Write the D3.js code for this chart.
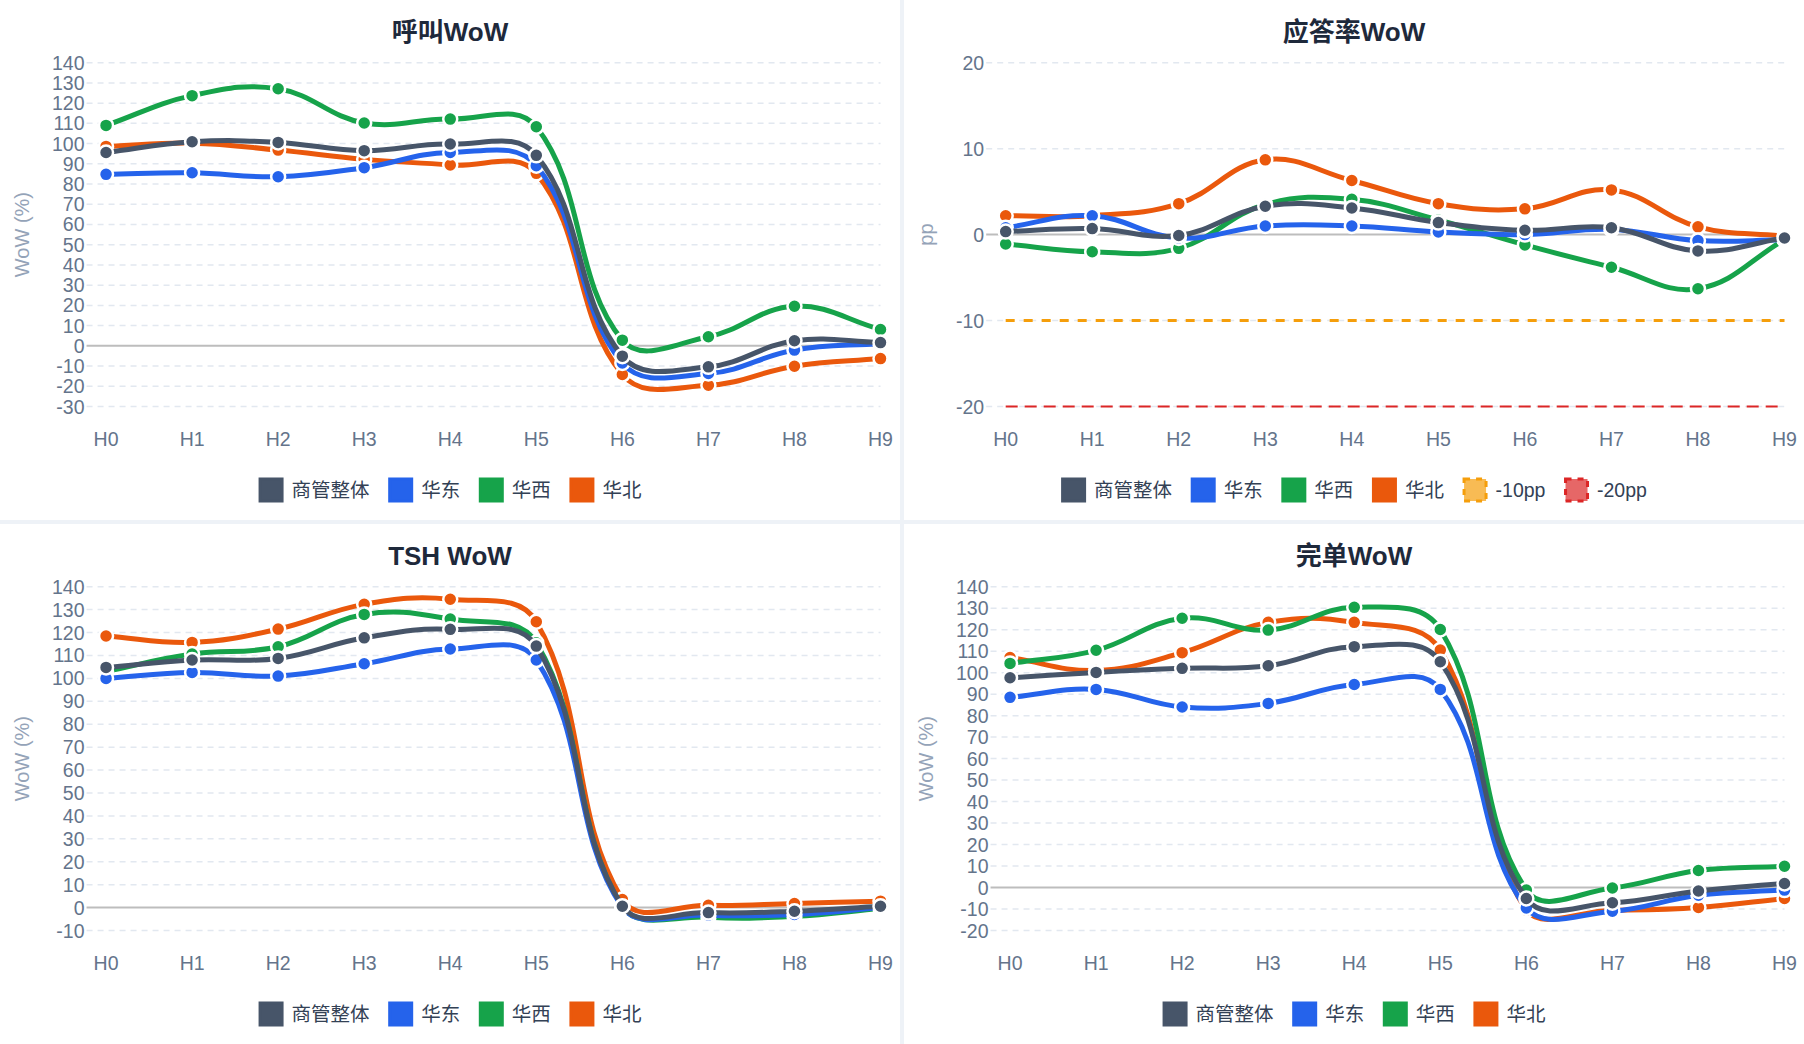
<!DOCTYPE html>
<html>
<head>
<meta charset="utf-8">
<script src="https://cdn.jsdelivr.net/npm/d3@7"></script>
<style>
  body { margin: 0; background: #eef2f7; }
  svg { display: block; }
  text { font-family: "Liberation Sans", "Noto Sans CJK SC", sans-serif; }
</style>
</head>
<body>
<script>
// categories + series names
const hours = ['H0', 'H1', 'H2', 'H3', 'H4', 'H5', 'H6', 'H7', 'H8', 'H9'];
const seriesNames = ['商管整体', '华东', '华西', '华北'];
const seriesColors = ['#475569', '#2563eb', '#16a34a', '#ea580c'];

// 呼叫WoW (%)
const callOverall = [95.6, 100.9, 100.6, 96.5, 99.8, 94.2, -5.1, -10.4, 2.5, 1.6];
const callEast    = [84.8, 85.6, 83.6, 88.1, 95.6, 89.1, -8.5, -13.7, -2.1, 1.2];
const callWest    = [109.0, 123.7, 127.1, 110.2, 112.1, 108.3, 2.8, 4.5, 19.6, 8.1];
const callNorth   = [98.6, 100.2, 96.8, 92.2, 89.4, 85.3, -14.2, -19.5, -10.1, -6.3];
const callTicks   = [140, 130, 120, 110, 100, 90, 80, 70, 60, 50, 40, 30, 20, 10, 0, -10, -20, -30];

// 应答率WoW (pp)
const ansOverall = [0.35, 0.7, -0.1, 3.3, 3.1, 1.4, 0.5, 0.8, -1.9, -0.4];
const ansEast    = [0.8, 2.2, -0.4, 1.0, 1.0, 0.3, 0.0, 0.6, -0.7, -0.6];
const ansWest    = [-1.1, -2.0, -1.6, 3.5, 4.1, 1.7, -1.2, -3.8, -6.3, -0.6];
const ansNorth   = [2.2, 2.2, 3.6, 8.7, 6.3, 3.6, 3.0, 5.2, 0.9, -0.2];
const ansMinus10 = [-10, -10, -10, -10, -10, -10, -10, -10, -10, -10];
const ansMinus20 = [-20, -20, -20, -20, -20, -20, -20, -20, -20, -20];
const ansTicks   = [20, 10, 0, -10, -20];

// TSH WoW (%)
const tshOverall = [104.8, 108.0, 108.7, 117.7, 121.4, 114.1, 0.6, -2.2, -1.6, 0.6];
const tshEast    = [100.0, 102.6, 101.0, 106.4, 112.8, 108.0, 0.0, -3.3, -3.0, 0.0];
const tshWest    = [103.0, 110.6, 113.8, 127.9, 125.9, 115.5, 0.3, -4.2, -3.8, -0.4];
const tshNorth   = [118.5, 115.7, 121.5, 132.3, 134.5, 124.7, 3.5, 1.0, 1.8, 2.8];
const tshTicks   = [140, 130, 120, 110, 100, 90, 80, 70, 60, 50, 40, 30, 20, 10, 0, -10];

// 完单WoW (%)
const doneOverall = [97.6, 100.1, 102.0, 103.2, 112.1, 105.1, -5.1, -7.1, -1.6, 1.9];
const doneEast    = [88.5, 92.2, 84.0, 85.7, 94.5, 92.2, -9.5, -11.0, -3.6, -1.2];
const doneWest    = [104.3, 110.4, 125.3, 119.8, 130.4, 120.1, -1.2, -0.2, 7.9, 9.9];
const doneNorth   = [107.0, 101.0, 109.3, 123.4, 123.4, 110.5, -10.6, -10.6, -9.3, -5.1];
const doneTicks   = [140, 130, 120, 110, 100, 90, 80, 70, 60, 50, 40, 30, 20, 10, 0, -10, -20];

const width = 1804, height = 1044;
const panelW = 900, panelH = 520, gap = 4;

function mainSeries(vals) {
    return vals.map((v, i) => ({ name: seriesNames[i], color: seriesColors[i], values: v, points: true, width: 5 }));
}

const panels = [
    { title: '呼叫WoW', yTitle: 'WoW (%)', ticks: callTicks, col: 0, row: 0,
      series: mainSeries([callOverall, callEast, callWest, callNorth]) },
    { title: '应答率WoW', yTitle: 'pp', ticks: ansTicks, col: 1, row: 0,
      series: mainSeries([ansOverall, ansEast, ansWest, ansNorth]).concat([
        { name: '-10pp', color: '#f59e0b', fill: 'rgba(245,158,11,0.7)', values: ansMinus10, points: false, width: 3, dash: '9,9' },
        { name: '-20pp', color: '#dc2626', fill: 'rgba(220,38,38,0.7)', values: ansMinus20, points: false, width: 2, dash: '12,7' }
      ]) },
    { title: 'TSH WoW', yTitle: 'WoW (%)', ticks: tshTicks, col: 0, row: 1,
      series: mainSeries([tshOverall, tshEast, tshWest, tshNorth]) },
    { title: '完单WoW', yTitle: 'WoW (%)', ticks: doneTicks, col: 1, row: 1,
      series: mainSeries([doneOverall, doneEast, doneWest, doneNorth]) }
];

// chart.js style spline (tension 0.4), control points capped to the plot area
function splineCurve(area) {
    return function(context) {
        let pts = [];
        return {
            areaStart() {}, areaEnd() {},
            lineStart() { pts = []; },
            point(x, y) { pts.push({ x: +x, y: +y }); },
            lineEnd() {
                const n = pts.length, t = 0.4;
                const cap = (v, lo, hi) => Math.max(lo, Math.min(hi, v));
                const cps = pts.map((cur, i) => {
                    const prev = pts[Math.max(i - 1, 0)], next = pts[Math.min(i + 1, n - 1)];
                    const d01 = Math.hypot(cur.x - prev.x, cur.y - prev.y);
                    const d12 = Math.hypot(next.x - cur.x, next.y - cur.y);
                    let s01 = d01 / (d01 + d12), s12 = d12 / (d01 + d12);
                    if (isNaN(s01)) s01 = 0;
                    if (isNaN(s12)) s12 = 0;
                    const fa = t * s01, fb = t * s12;
                    return {
                        px: cap(cur.x - fa * (next.x - prev.x), area.left, area.right),
                        py: cap(cur.y - fa * (next.y - prev.y), area.top, area.bottom),
                        nx: cap(cur.x + fb * (next.x - prev.x), area.left, area.right),
                        ny: cap(cur.y + fb * (next.y - prev.y), area.top, area.bottom)
                    };
                });
                context.moveTo(pts[0].x, pts[0].y);
                for (let i = 1; i < n; i++) {
                    context.bezierCurveTo(cps[i - 1].nx, cps[i - 1].ny, cps[i].px, cps[i].py, pts[i].x, pts[i].y);
                }
            }
        };
    };
}

const svg = d3.select('body')
    .append('svg')
    .attr('width', width)
    .attr('height', height);

panels.forEach(p => drawPanel(p));

function drawPanel(p) {
    const g = svg.append('g')
        .attr('transform', `translate(${p.col * (panelW + gap)}, ${p.row * (panelH + gap)})`);

    g.append('rect')
        .attr('width', panelW)
        .attr('height', panelH)
        .attr('fill', '#ffffff');

    g.append('text')
        .attr('x', panelW / 2)
        .attr('y', 32)
        .attr('text-anchor', 'middle')
        .attr('dominant-baseline', 'central')
        .attr('font-size', 26)
        .attr('font-weight', 700)
        .attr('fill', '#1e293b')
        .text(p.title);

    const top = 62.7, bottom = 406.5, right = 880.5;
    const yScale = d3.scaleLinear()
        .domain([d3.min(p.ticks), d3.max(p.ticks)])
        .range([bottom, top]);

    // y tick labels, measure widest to place the grid
    const labelLeft = 52;
    const labels = g.append('g').selectAll('text')
        .data(p.ticks)
        .enter()
        .append('text')
        .attr('y', d => yScale(d))
        .attr('dominant-baseline', 'central')
        .attr('text-anchor', 'end')
        .attr('font-size', 19.5)
        .attr('fill', '#64748b')
        .text(d => d);
    let maxW = 0;
    labels.each(function() { maxW = Math.max(maxW, this.getComputedTextLength()); });
    const labelRight = labelLeft + maxW;
    labels.attr('x', labelRight);
    const gridStart = labelRight + 2;

    const xScale = d3.scalePoint()
        .domain(hours)
        .range([gridStart + 19.5, right]);

    g.append('text')
        .attr('transform', `translate(22, ${(top + bottom) / 2}) rotate(-90)`)
        .attr('text-anchor', 'middle')
        .attr('dominant-baseline', 'central')
        .attr('font-size', 20)
        .attr('fill', '#94a3b8')
        .text(p.yTitle);

    // grid
    g.insert('g', 'g').selectAll('line')
        .data(p.ticks)
        .enter()
        .append('line')
        .attr('x1', gridStart)
        .attr('x2', right)
        .attr('y1', d => yScale(d))
        .attr('y2', d => yScale(d))
        .attr('stroke', d => d === 0 ? '#bdbdbd' : '#e2e8f0')
        .attr('stroke-width', d => d === 0 ? 2 : 1.5)
        .attr('stroke-dasharray', d => d === 0 ? null : '6,5');

    // x labels
    g.append('g').selectAll('text')
        .data(hours)
        .enter()
        .append('text')
        .attr('x', d => xScale(d))
        .attr('y', 439)
        .attr('text-anchor', 'middle')
        .attr('dominant-baseline', 'central')
        .attr('font-size', 19.5)
        .attr('fill', '#64748b')
        .text(d => d);

    const area = { left: xScale(hours[0]), right: right, top: top, bottom: bottom };
    const line = d3.line()
        .x((d, i) => xScale(hours[i]))
        .y(d => yScale(d))
        .curve(splineCurve(area));
    const straight = d3.line()
        .x((d, i) => xScale(hours[i]))
        .y(d => yScale(d));

    // first dataset ends up on top
    const plot = g.append('g');
    p.series.slice().reverse().forEach(s => {
        const sg = plot.append('g');
        sg.append('path')
            .attr('d', s.points ? line(s.values) : straight(s.values))
            .attr('fill', 'none')
            .attr('stroke', s.color)
            .attr('stroke-width', s.width)
            .attr('stroke-dasharray', s.dash || null)
            .attr('stroke-linejoin', 'round');
        if (s.points) {
            sg.selectAll('circle')
                .data(s.values)
                .enter()
                .append('circle')
                .attr('cx', (d, i) => xScale(hours[i]))
                .attr('cy', d => yScale(d))
                .attr('r', 7)
                .attr('fill', s.color)
                .attr('stroke', '#ffffff')
                .attr('stroke-width', 2.5);
        }
    });

    // legend, centred on the panel
    const lg = g.append('g');
    const items = lg.selectAll('g')
        .data(p.series)
        .enter()
        .append('g');
    items.append('rect')
        .attr('x', 1.5)
        .attr('y', 490 - 11)
        .attr('width', 22)
        .attr('height', 22)
        .attr('fill', d => d.fill || d.color)
        .attr('stroke', d => d.color)
        .attr('stroke-width', 3)
        .attr('stroke-dasharray', d => d.dash ? '6,6' : null);
    items.append('text')
        .attr('x', 33)
        .attr('y', 490)
        .attr('dominant-baseline', 'central')
        .attr('font-size', 19.5)
        .attr('fill', '#334155')
        .text(d => d.name);
    let widths = [];
    items.each(function() { widths.push(33 + d3.select(this).select('text').node().getComputedTextLength()); });
    const itemGap = 18.6;
    const total = d3.sum(widths) + itemGap * (widths.length - 1);
    let cx = panelW / 2 - total / 2;
    items.attr('transform', (d, i) => {
        const x = cx;
        cx += widths[i] + itemGap;
        return `translate(${x}, 0)`;
    });
}
</script>
</body>
</html>
